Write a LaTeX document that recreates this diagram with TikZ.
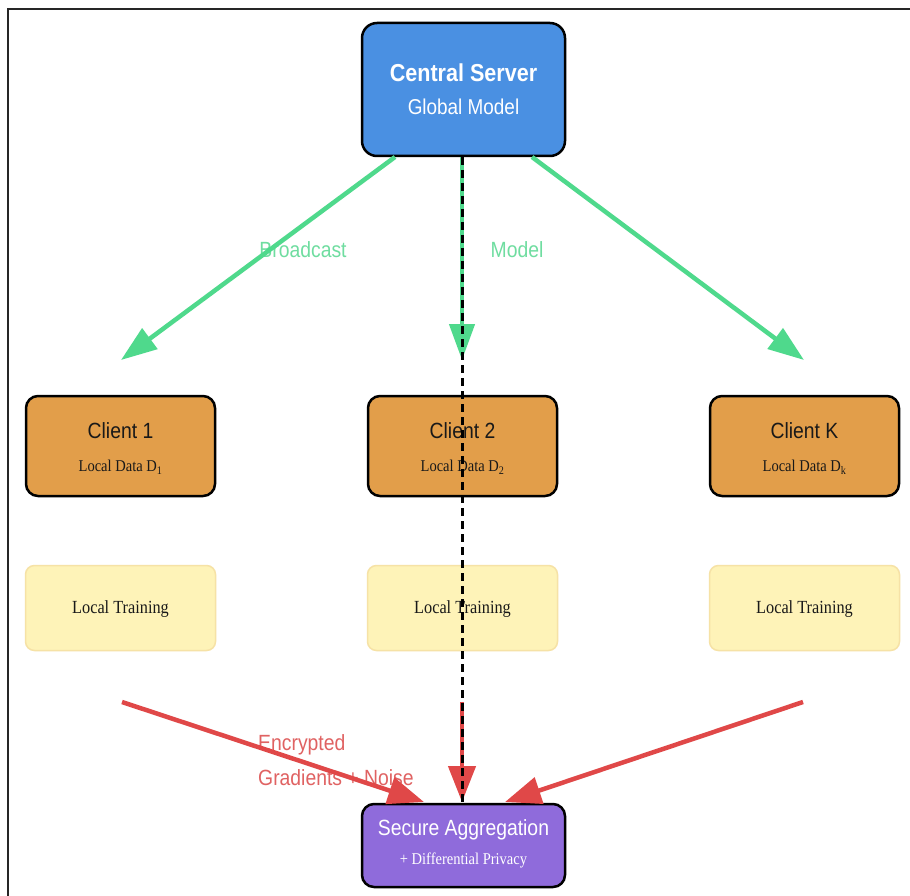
\documentclass[tikz,border=0pt]{standalone}
\usepackage{fontspec}
\setmainfont{Liberation Serif}
\setsansfont{Liberation Sans}
\usepackage{graphicx}
\usetikzlibrary{arrows.meta}
\definecolor{srvblue}{HTML}{4A90E2}
\definecolor{cliorange}{HTML}{E29E4A}
\definecolor{trainyellow}{HTML}{FEF3B8}
\definecolor{trainborder}{HTML}{F6E2A6}
\definecolor{aggpurple}{HTML}{8F6BDB}
\definecolor{grnline}{HTML}{4FD98C}
\definecolor{grntext}{HTML}{6FDDA0}
\definecolor{redline}{HTML}{E04848}
\definecolor{redtext}{HTML}{E06262}
\newcommand\sqz[1]{\scalebox{0.88}[1]{#1}}
\tikzset{
  darkbox/.style={draw=black, line width=2.5pt, inner sep=0pt},
  srvbox/.style={darkbox, fill=srvblue, rounded corners=15pt, minimum width=203pt, minimum height=133pt},
  clibox/.style={darkbox, fill=cliorange, rounded corners=12pt, minimum width=189pt, minimum height=100pt},
  trainbox/.style={draw=trainborder, line width=1.5pt, fill=trainyellow, rounded corners=9pt, minimum width=190pt, minimum height=85pt, inner sep=0pt},
  aggbox/.style={darkbox, fill=aggpurple, rounded corners=12pt, minimum width=203pt, minimum height=83pt},
  sanstxt/.style={font=\sffamily\fontsize{22}{26}\selectfont, inner sep=0pt},
  boldtxt/.style={font=\sffamily\bfseries\fontsize{24.5}{28}\selectfont, inner sep=0pt},
  sertxt/.style={font=\rmfamily\fontsize{16.5}{20}\selectfont, inner sep=0pt},
  trtxt/.style={font=\rmfamily\fontsize{18.5}{22}\selectfont, inner sep=0pt},
  grnarrow/.style={draw=grnline, line width=4.5pt, -{Triangle[length=36pt,width=25pt]}},
  redarrow/.style={draw=redline, line width=4.5pt, -{Triangle[length=36pt,width=27pt]}},
  dashline/.style={draw=black, line width=3pt, dash pattern=on 8pt off 5pt},
}
\begin{document}
\begin{tikzpicture}[x=1pt,y=-1pt]
\useasboundingbox (0,0) rectangle (910,896);
\fill[white] (0,0) rectangle (910,896);
\draw[line width=2.5pt, color=black!85] (8,896) -- (8,9) -- (910,9);

% labels (below lines)
\node[sanstxt, text=grntext] (lbcast) at (303,250) {\sqz{Broadcast}};
\node[sanstxt, text=grntext] (lmodel) at (517,250) {\sqz{Model}};
\node[sanstxt, text=redtext, anchor=west] (lenc) at (258,745) {\sqz{Encrypted}};
\node[sanstxt, text=redtext, anchor=west] (lgrad) at (258,778) {\sqz{Gradients + Noise}};

% boxes
\node[srvbox] (srv) at (463.5,89.5) {};
\node[boldtxt, text=white] (srvt1) at (463.5,73) {\sqz{Central Server}};
\node[sanstxt, text=white, font=\sffamily\fontsize{21.5}{26}\selectfont] (srvt2) at (463.5,107) {\sqz{Global Model}};

\node[clibox] (c1) at (120.5,446) {};
\node[clibox] (c2) at (462.5,446) {};
\node[clibox] (ck) at (804.5,446) {};
\node[sanstxt, text=black!90] (c1t) at (120.5,431) {\sqz{Client 1}};
\node[sanstxt, text=black!90] (c2t) at (462.5,431) {\sqz{Client 2}};
\node[sanstxt, text=black!90] (ckt) at (804.5,431) {\sqz{Client K}};
\node[sertxt, text=black!90] (c1d) at (120.5,467) {\sqz{Local Data D\textsubscript{1}}};
\node[sertxt, text=black!90] (c2d) at (462.5,467) {\sqz{Local Data D\textsubscript{2}}};
\node[sertxt, text=black!90] (ckd) at (804.5,467) {\sqz{Local Data D\textsubscript{k}}};

\node[trainbox] (t1) at (120.5,608) {};
\node[trainbox] (t2) at (462.5,608) {};
\node[trainbox] (tk) at (804.5,608) {};
\node[trtxt, text=black!90] (t1t) at (120.5,609) {\sqz{Local Training}};
\node[trtxt, text=black!90] (t2t) at (462.5,609) {\sqz{Local Training}};
\node[trtxt, text=black!90] (tkt) at (804.5,609) {\sqz{Local Training}};

\node[aggbox] (agg) at (463.5,845.5) {};
\node[sanstxt, text=white] (aggt1) at (463.5,830) {\sqz{Secure Aggregation}};
\node[sertxt, text=white] (aggt2) at (463.5,860) {\sqz{+ Differential Privacy}};

% coordinates
\coordinate (gs1) at (395,157);
\coordinate (gs2) at (462,157);
\coordinate (gs3) at (532,157);
\coordinate (ge1) at (121,360);
\coordinate (ge2) at (462,360);
\coordinate (ge3) at (804,360);
\coordinate (rs1) at (122,702);
\coordinate (rs2) at (462,702);
\coordinate (rs3) at (803,702);
\coordinate (re1) at (424,802);
\coordinate (re2) at (462,802);
\coordinate (re3) at (505,802);

% green broadcast arrows
\draw[grnarrow] (gs1) -- (ge1);
\draw[grnarrow] (gs2) -- (ge2);
\draw[grnarrow] (gs3) -- (ge3);

% red gradient arrows
\draw[redarrow] (rs1) -- (re1);
\draw[redarrow] (rs2) -- (re2);
\draw[redarrow] (rs3) -- (re3);

% dashed line
\draw[dashline] (srv.south -| gs2) -- (agg.north -| gs2);
\end{tikzpicture}
\end{document}
